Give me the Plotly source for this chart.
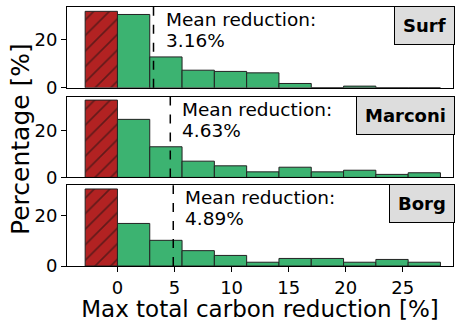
import plotly.graph_objects as go

# ---- data ----
bin_edges = [-2.83, 0.0, 2.83, 5.66, 8.49, 11.32, 14.15, 16.98, 19.81, 22.64, 25.47, 28.3]
systems = ["Surf", "Marconi", "Borg"]
negative_pct = [31.7, 33.3, 30.6]  # red (hatched) bin, below 0
surf_pct = [30.4, 12.8, 7.3, 6.8, 6.2, 1.8, 0.0, 0.7, 0.0, 0.0]
marconi_pct = [25.0, 13.2, 7.0, 5.0, 2.4, 4.4, 2.4, 3.1, 1.3, 2.0]
borg_pct = [16.9, 10.2, 6.1, 4.2, 1.5, 3.0, 3.0, 1.5, 2.6, 1.5]
mean_reduction = [3.16, 4.63, 4.89]
y_max = [33.5, 34.8, 32.1]
x_ticks = [0, 5, 10, 15, 20, 25]
y_ticks = [0, 20]

green_pct = [surf_pct, marconi_pct, borg_pct]

FONT = "DejaVu Sans"
centers = [(bin_edges[i] + bin_edges[i + 1]) / 2 for i in range(len(bin_edges) - 1)]
widths = [bin_edges[i + 1] - bin_edges[i] for i in range(len(bin_edges) - 1)]

fig = go.Figure()

# domains (bottom, top) in paper coords
domains = [[0.688, 1.0], [0.342, 0.654], [0.0, 0.312]]

for i, name in enumerate(systems):
    sfx = "" if i == 0 else str(i + 1)
    xa, ya = "x" + sfx, "y" + sfx
    fig.add_trace(go.Bar(
        x=[centers[0]], y=[negative_pct[i]], width=[widths[0]],
        xaxis=xa, yaxis=ya,
        marker=dict(color="#b22222",
                    line=dict(color="#222222", width=1),
                    pattern=dict(shape="/", fgcolor="#111111", bgcolor="#b22222",
                                 size=11, solidity=0.15)),
        showlegend=False, hoverinfo="skip"))
    fig.add_trace(go.Bar(
        x=centers[1:], y=green_pct[i], width=widths[1:],
        xaxis=xa, yaxis=ya,
        marker=dict(color="#3cb371", line=dict(color="#222222", width=1)),
        showlegend=False, hoverinfo="skip"))

    fig.add_shape(type="line", xref=xa, yref=ya + " domain",
                  x0=mean_reduction[i], x1=mean_reduction[i], y0=0, y1=1,
                  line=dict(color="black", width=1.5, dash="dash"))

    fig.add_annotation(xref=xa, yref=ya + " domain", x=mean_reduction[i], y=1,
                       xanchor="left", yanchor="top", xshift=10, yshift=0,
                       text="Mean reduction:", showarrow=False,
                       font=dict(family=FONT, size=18.5, color="black"))
    fig.add_annotation(xref=xa, yref=ya + " domain", x=mean_reduction[i], y=1,
                       xanchor="left", yanchor="top", xshift=10, yshift=-21,
                       text=f"{mean_reduction[i]:.2f}%", showarrow=False,
                       font=dict(family=FONT, size=18.5, color="black"))

    fig.add_annotation(xref=xa + " domain", yref=ya + " domain", x=0.996, y=0.96,
                       xanchor="right", yanchor="top", xshift=4, yshift=4,
                       text=f"<b>{name}</b>", showarrow=False,
                       bgcolor="#dddddd", bordercolor="black", borderwidth=1,
                       borderpad=8,
                       font=dict(family=FONT, size=18, color="black"))

    bottom = i == len(systems) - 1
    fig.update_layout(**{
        "xaxis" + sfx: dict(
            anchor=ya, range=[-4.42, 29.4], tickvals=x_ticks,
            showticklabels=bottom, ticks="outside" if bottom else "",
            ticklen=5, tickcolor="black", showline=True, mirror=True,
            linecolor="black", linewidth=1, showgrid=False, zeroline=False,
            matches=None if i == 0 else "x",
            tickfont=dict(family=FONT, size=18, color="black"),
            title=dict(text="Max total carbon reduction [%]" if bottom else "",
                       font=dict(family=FONT, size=23, color="black"), standoff=4),
        ),
        "yaxis" + sfx: dict(
            anchor=xa, domain=domains[i], range=[0, y_max[i]], tickvals=y_ticks,
            ticks="outside", ticklen=5, tickcolor="black", showline=True,
            mirror=True, linecolor="black", linewidth=1, showgrid=False,
            zeroline=False, tickfont=dict(family=FONT, size=18, color="black"),
        ),
    })

fig.add_annotation(xref="paper", yref="paper", x=-0.122, y=0.49,
                   xanchor="center", yanchor="middle", textangle=-90,
                   text="Percentage [%]", showarrow=False,
                   font=dict(family=FONT, size=25, color="black"))

fig.update_layout(width=455, height=322, margin=dict(l=67, r=2, t=7, b=56, autoexpand=False),
                  paper_bgcolor="white", plot_bgcolor="white", barmode="overlay",
                  font=dict(family=FONT))

fig.write_html("out.html", config={"displayModeBar": False},
               post_script="document.body.style.margin='0';")
